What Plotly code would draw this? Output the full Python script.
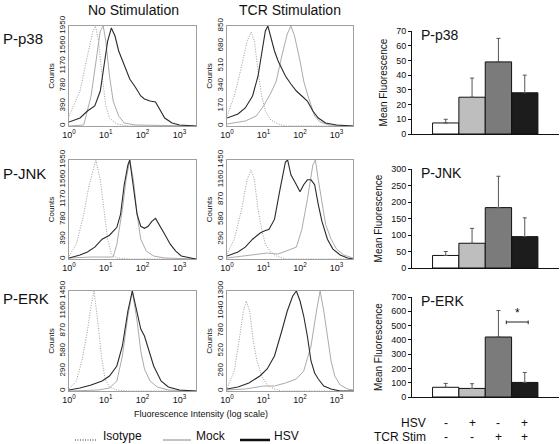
import plotly.graph_objects as go

W, H = 560, 444
FONT = "Liberation Sans, Arial, sans-serif"

# ---------------- data ----------------
LOG_TICKVALS = [0, 1, 2, 3]
LOG_TICKTEXT = ["10<sup>0</sup>", "10<sup>1</sup>", "10<sup>2</sup>", "10<sup>3</sup>"]

# Counts axis maxima / tick labels per histogram panel (row, col)
count_max = {(0, 0): 1950, (0, 1): 850, (1, 0): 1950, (1, 1): 1450, (2, 0): 1450, (2, 1): 1300}

# curves: log10 intensity (x) and % of panel maximum (y)
# --- P-p38, No Stimulation
p38_ns_iso_x = [0, 0.3, 0.5, 0.65, 0.72, 0.8, 0.9, 1.0, 1.1, 1.3, 1.6, 3.45]
p38_ns_iso_y = [10, 35, 70, 95, 100, 85, 50, 20, 8, 2, 0, 0]
p38_ns_mock_x = [0, 0.4, 0.6, 0.75, 0.85, 0.93, 1.0, 1.1, 1.2, 1.35, 1.5, 1.8, 3.45]
p38_ns_mock_y = [0, 1, 30, 70, 95, 100, 85, 50, 25, 10, 3, 1, 0]
p38_ns_hsv_x = [0, 0.3, 0.5, 0.7, 0.85, 0.95, 1.05, 1.15, 1.25, 1.35, 1.5, 1.65, 1.8, 1.95, 2.05,
                2.2, 2.35, 2.45, 2.6, 2.8, 3.0, 3.45]
p38_ns_hsv_y = [4, 8, 15, 20, 35, 60, 85, 98, 90, 75, 60, 47, 39, 30, 27, 25, 24, 18, 8, 3, 1, 0]
# --- P-p38, TCR Stimulation
p38_tcr_iso_x = [0, 0.2, 0.4, 0.55, 0.66, 0.75, 0.85, 0.95, 1.05, 1.2, 1.4, 1.6, 3.45]
p38_tcr_iso_y = [10, 30, 60, 85, 94, 85, 55, 30, 15, 6, 2, 0, 0]
p38_tcr_mock_x = [0, 0.5, 0.8, 1.0, 1.2, 1.35, 1.5, 1.65, 1.75, 1.85, 2.0, 2.1, 2.2, 2.3, 2.4,
                  2.55, 2.8, 3.45]
p38_tcr_mock_y = [2, 5, 10, 20, 33, 45, 70, 92, 100, 90, 65, 45, 32, 20, 10, 4, 1, 0]
p38_tcr_hsv_x = [0, 0.3, 0.5, 0.7, 0.85, 0.95, 1.05, 1.12, 1.2, 1.3, 1.4, 1.5, 1.6, 1.75, 1.9,
                 2.05, 2.2, 2.35, 2.5, 2.7, 3.0, 3.45]
p38_tcr_hsv_y = [8, 12, 18, 30, 50, 75, 95, 100, 88, 75, 65, 58, 50, 42, 35, 30, 25, 15, 8, 3, 1, 0]
# --- P-JNK, No Stimulation
jnk_ns_iso_x = [0, 0.2, 0.4, 0.55, 0.73, 0.85, 0.95, 1.05, 1.15, 1.3, 1.6, 3.45]
jnk_ns_iso_y = [3, 15, 45, 75, 100, 80, 50, 20, 5, 1, 0, 0]
jnk_ns_mock_x = [0, 0.6, 1.2, 1.3, 1.45, 1.55, 1.65, 1.75, 1.85, 1.95, 2.1, 2.3, 2.6, 3.45]
jnk_ns_mock_y = [1, 2, 2, 15, 50, 80, 100, 80, 45, 20, 8, 3, 1, 0]
jnk_ns_hsv_x = [0, 0.3, 0.5, 0.7, 0.9, 1.1, 1.3, 1.4, 1.5, 1.6, 1.65, 1.75, 1.85, 1.95, 2.05,
                2.15, 2.25, 2.35, 2.45, 2.6, 2.75, 2.9, 3.05, 3.3, 3.45]
jnk_ns_hsv_y = [1, 4, 7, 12, 20, 24, 32, 45, 75, 95, 100, 70, 45, 33, 31, 33, 38, 41, 35, 25,
                15, 8, 3, 1, 0]
# --- P-JNK, TCR Stimulation
jnk_tcr_iso_x = [0, 0.2, 0.4, 0.55, 0.66, 0.75, 0.85, 0.95, 1.05, 1.2, 1.35, 1.6, 3.45]
jnk_tcr_iso_y = [5, 20, 50, 80, 90, 80, 50, 30, 15, 7, 3, 0, 0]
jnk_tcr_mock_x = [0, 0.5, 0.9, 1.1, 1.4, 1.6, 1.75, 1.9, 2.05, 2.2, 2.35, 2.42, 2.5, 2.6, 2.7,
                  2.85, 3.0, 3.2, 3.45]
jnk_tcr_mock_y = [1, 3, 5, 6, 5, 8, 10, 12, 30, 60, 95, 100, 80, 55, 35, 20, 10, 4, 1]
jnk_tcr_hsv_x = [0, 0.3, 0.5, 0.7, 0.9, 1.0, 1.15, 1.3, 1.45, 1.6, 1.66, 1.75, 1.9, 2.0, 2.1,
                 2.2, 2.3, 2.4, 2.5, 2.6, 2.75, 2.9, 3.1, 3.3, 3.45]
jnk_tcr_hsv_y = [3, 7, 12, 20, 26, 28, 30, 40, 70, 98, 100, 85, 75, 68, 75, 80, 80, 75, 55, 38,
                 20, 10, 4, 1, 0]
# --- P-ERK, No Stimulation
erk_ns_iso_x = [0, 0.2, 0.35, 0.5, 0.6, 0.68, 0.78, 0.88, 0.98, 1.1, 1.3, 1.6, 3.45]
erk_ns_iso_y = [2, 10, 30, 60, 85, 100, 70, 35, 12, 4, 1, 0, 0]
erk_ns_mock_x = [0, 0.8, 1.1, 1.3, 1.45, 1.6, 1.72, 1.85, 1.95, 2.05, 2.2, 2.4, 2.7, 3.45]
erk_ns_mock_y = [0, 1, 3, 10, 35, 75, 100, 70, 40, 22, 10, 4, 1, 0]
erk_ns_hsv_x = [0, 0.3, 0.6, 0.9, 1.1, 1.3, 1.45, 1.6, 1.72, 1.85, 1.95, 2.05, 2.15, 2.3, 2.5,
                2.7, 3.0, 3.45]
erk_ns_hsv_y = [1, 3, 6, 10, 15, 25, 45, 80, 100, 80, 62, 55, 42, 25, 10, 4, 1, 0]
# --- P-ERK, TCR Stimulation
erk_tcr_iso_x = [0, 0.2, 0.35, 0.45, 0.53, 0.62, 0.72, 0.82, 0.95, 1.1, 1.3, 1.5, 3.45]
erk_tcr_iso_y = [3, 20, 55, 80, 90, 80, 50, 30, 15, 6, 2, 0, 0]
erk_tcr_mock_x = [0, 0.5, 1.0, 1.3, 1.6, 1.9, 2.1, 2.3, 2.45, 2.55, 2.65, 2.75, 2.85, 2.95, 3.1,
                  3.3, 3.45]
erk_tcr_mock_y = [1, 2, 5, 5, 8, 12, 20, 45, 80, 100, 80, 55, 30, 15, 6, 2, 1]
erk_tcr_hsv_x = [0, 0.3, 0.6, 0.9, 1.1, 1.3, 1.5, 1.65, 1.8, 1.9, 2.0, 2.1, 2.2, 2.3, 2.4, 2.5,
                 2.65, 2.85, 3.1, 3.45]
erk_tcr_hsv_y = [2, 4, 8, 15, 22, 35, 60, 80, 95, 100, 90, 75, 55, 30, 18, 12, 5, 2, 0, 0]

hist_panels = {
    (0, 0): [(p38_ns_iso_x, p38_ns_iso_y), (p38_ns_mock_x, p38_ns_mock_y), (p38_ns_hsv_x, p38_ns_hsv_y)],
    (0, 1): [(p38_tcr_iso_x, p38_tcr_iso_y), (p38_tcr_mock_x, p38_tcr_mock_y), (p38_tcr_hsv_x, p38_tcr_hsv_y)],
    (1, 0): [(jnk_ns_iso_x, jnk_ns_iso_y), (jnk_ns_mock_x, jnk_ns_mock_y), (jnk_ns_hsv_x, jnk_ns_hsv_y)],
    (1, 1): [(jnk_tcr_iso_x, jnk_tcr_iso_y), (jnk_tcr_mock_x, jnk_tcr_mock_y), (jnk_tcr_hsv_x, jnk_tcr_hsv_y)],
    (2, 0): [(erk_ns_iso_x, erk_ns_iso_y), (erk_ns_mock_x, erk_ns_mock_y), (erk_ns_hsv_x, erk_ns_hsv_y)],
    (2, 1): [(erk_tcr_iso_x, erk_tcr_iso_y), (erk_tcr_mock_x, erk_tcr_mock_y), (erk_tcr_hsv_x, erk_tcr_hsv_y)],
}

# Bar charts: mean fluorescence and upper error
bar_groups = [0, 1, 2, 3]
hsv_signs = ["-", "+", "-", "+"]
tcr_signs = ["-", "-", "+", "+"]
proteins = ["P-p38", "P-JNK", "P-ERK"]
p38_mean = [7.5, 25, 49, 28]
p38_err = [2.5, 13, 16, 12]
jnk_mean = [38, 75, 183, 95]
jnk_err = [12, 45, 95, 57]
erk_mean = [68, 60, 420, 102]
erk_err = [27, 33, 185, 70]
bar_means = [p38_mean, jnk_mean, erk_mean]
bar_errs = [p38_err, jnk_err, erk_err]
bar_ymax = [70, 300, 700]
bar_dtick = [10, 50, 100]
bar_colors = ["#ffffff", "#bebebe", "#7b7b7b", "#1c1c1c"]

# ---------------- layout geometry (px) ----------------
hist_cols = [(69, 196), (227, 353)]
hist_rows = [(26, 126), (160, 259), (291, 391)]
bar_cols = (412, 559)
bar_rows = [(31, 134), (169, 268), (297, 397)]


def dx(a, b):
    return [a / W, b / W]


def dy(top, bottom):
    return [1 - bottom / H, 1 - top / H]


fig = go.Figure()
layout = dict(width=W, height=H, margin=dict(l=0, r=0, t=0, b=0, autoexpand=False),
              paper_bgcolor="white", plot_bgcolor="rgba(0,0,0,0)",
              showlegend=False, font=dict(family=FONT, color="#111"))
annotations = []
shapes = []

styles = [dict(color="#9c9c9c", width=1, dash="1px,1.5px"),
          dict(color="#ababab", width=1),
          dict(color="#2a2a2a", width=1.1)]

ax = 0
for (r, c), curves in hist_panels.items():
    ax += 1
    xa, ya = ("x%d" % ax if ax > 1 else "x"), ("y%d" % ax if ax > 1 else "y")
    m = count_max[(r, c)]
    for (xs, ys), st in zip(curves, styles):
        fig.add_trace(go.Scatter(x=xs, y=[v / 100 * m for v in ys], mode="lines",
                                 line=st, xaxis=xa, yaxis=ya, hoverinfo="skip"))
    key = "" if ax == 1 else str(ax)
    layout["xaxis" + key] = dict(domain=dx(*hist_cols[c]), anchor=ya, range=[0, 3.45],
                                 tickvals=LOG_TICKVALS, ticktext=LOG_TICKTEXT, automargin=False,
                                 showline=True, mirror=True, linecolor="#a0a0a0", linewidth=1,
                                 showgrid=False, zeroline=False, ticks="",
                                 tickfont=dict(size=9, family=FONT, color="#111"))
    layout["yaxis" + key] = dict(domain=dy(*hist_rows[r]), anchor=xa, range=[0, m],
                                 tickvals=[m * k / 5 for k in range(6)],
                                 ticktext=[str(int(round(m * k / 5))) for k in range(6)],
                                 tickangle=-90, showline=True, mirror=True, automargin=False,
                                 linecolor="#a0a0a0", linewidth=1, showgrid=False,
                                 zeroline=False, ticks="",
                                 tickfont=dict(size=8, family=FONT, color="#111"),
                                 title=dict(text="Counts", standoff=1,
                                            font=dict(size=8, family=FONT, color="#111")))

for i in range(3):
    ax += 1
    key = str(ax)
    xa, ya = "x" + key, "y" + key
    means, errs = bar_means[i], bar_errs[i]
    fig.add_trace(go.Bar(x=bar_groups, y=means, width=1, xaxis=xa, yaxis=ya,
                         marker=dict(color=bar_colors, line=dict(color="#111", width=1)),
                         error_y=dict(type="data", symmetric=False, array=errs,
                                      arrayminus=[0] * 4, color="#555", thickness=1, width=2),
                         hoverinfo="skip"))
    layout["xaxis" + key] = dict(domain=dx(*bar_cols), anchor=ya, range=[-1.28, 4.3],
                                 showline=True, linecolor="#111", linewidth=1, automargin=False,
                                 showticklabels=False, ticks="", showgrid=False, zeroline=False)
    layout["yaxis" + key] = dict(domain=dy(*bar_rows[i]), anchor=xa, range=[0, bar_ymax[i]],
                                 dtick=bar_dtick[i], showline=True, linecolor="#111",
                                 linewidth=1, ticks="outside", ticklen=3, tickcolor="#111",
                                 showgrid=False, zeroline=False, automargin=False,
                                 tickfont=dict(size=9, family=FONT, color="#111"),
                                 title=dict(text="Mean Fluorescence", standoff=6,
                                            font=dict(size=10, family=FONT, color="#111")))
    annotations.append(dict(text=proteins[i], xref="paper", yref="paper",
                            x=419 / W, y=1 - (bar_rows[i][0] + 4) / H, xanchor="left",
                            yanchor="middle", showarrow=False,
                            font=dict(size=14, family=FONT, color="#111")))
    # row label on the far left
    annotations.append(dict(text=proteins[i], xref="paper", yref="paper",
                            x=1 / W, y=1 - [38, 173, 298][i] / H, xanchor="left",
                            yanchor="middle", showarrow=False,
                            font=dict(size=15, family=FONT, color="#111")))

# significance bracket on P-ERK bar chart
shapes.append(dict(type="line", xref="x9", yref="y9", x0=2.3, x1=3.13, y0=525, y1=525,
                   line=dict(color="#222", width=1)))
shapes.append(dict(type="line", xref="x9", yref="y9", x0=2.3, x1=2.3, y0=510, y1=535,
                   line=dict(color="#222", width=1)))
shapes.append(dict(type="line", xref="x9", yref="y9", x0=3.13, x1=3.13, y0=510, y1=535,
                   line=dict(color="#222", width=1)))
annotations.append(dict(text="*", xref="x9", yref="y9", x=2.72, y=590, showarrow=False,
                        yanchor="middle", font=dict(size=12, family=FONT, color="#111")))

# column titles
annotations.append(dict(text="No Stimulation", xref="paper", yref="paper", x=133 / W,
                        y=1 - 10 / H, showarrow=False, xanchor="center", yanchor="middle",
                        font=dict(size=14, family=FONT, color="#111")))
annotations.append(dict(text="TCR Stimulation", xref="paper", yref="paper", x=290 / W,
                        y=1 - 10 / H, showarrow=False, xanchor="center", yanchor="middle",
                        font=dict(size=14, family=FONT, color="#111")))
annotations.append(dict(text="Fluorescence Intensity (log scale)", xref="paper", yref="paper",
                        x=201 / W, y=1 - 414 / H, showarrow=False, xanchor="center",
                        yanchor="middle", font=dict(size=9, family=FONT, color="#111")))

# legend for histograms
legend_items = [("Isotype", 75, 97, 101, dict(color="#333", width=1, dash="1px,1.5px")),
                ("Mock", 163, 191, 194, dict(color="#888", width=1)),
                ("HSV", 240, 270, 272, dict(color="#111", width=2.5))]
for label, x0, x1, xt, ln in legend_items:
    shapes.append(dict(type="line", xref="paper", yref="paper", x0=x0 / W, x1=x1 / W,
                       y0=1 - 440 / H, y1=1 - 440 / H, line=ln))
    annotations.append(dict(text=label, xref="paper", yref="paper", x=xt / W, y=1 - 436 / H,
                            xanchor="left", yanchor="middle", showarrow=False,
                            font=dict(size=12, family=FONT, color="#111")))

# treatment table under bar charts
annotations.append(dict(text="HSV", xref="paper", yref="paper", x=428 / W, y=1 - 423 / H,
                        xanchor="right", yanchor="middle", showarrow=False,
                        font=dict(size=12, family=FONT, color="#111")))
annotations.append(dict(text="TCR Stim", xref="paper", yref="paper", x=428 / W, y=1 - 437 / H,
                        xanchor="right", yanchor="middle", showarrow=False,
                        font=dict(size=12, family=FONT, color="#111")))
for g, hs, ts in zip(bar_groups, hsv_signs, tcr_signs):
    annotations.append(dict(text=hs, xref="x9", yref="paper", x=g, y=1 - 423 / H,
                            xanchor="center", yanchor="middle", showarrow=False,
                            font=dict(size=12, family=FONT, color="#111")))
    annotations.append(dict(text=ts, xref="x9", yref="paper", x=g, y=1 - 437 / H,
                            xanchor="center", yanchor="middle", showarrow=False,
                            font=dict(size=12, family=FONT, color="#111")))

layout["annotations"] = annotations
layout["shapes"] = shapes
fig.update_layout(**layout)
fig.write_html("out.html", config={"displayModeBar": False},
               post_script="document.body.style.margin='0';document.body.style.padding='0';")
